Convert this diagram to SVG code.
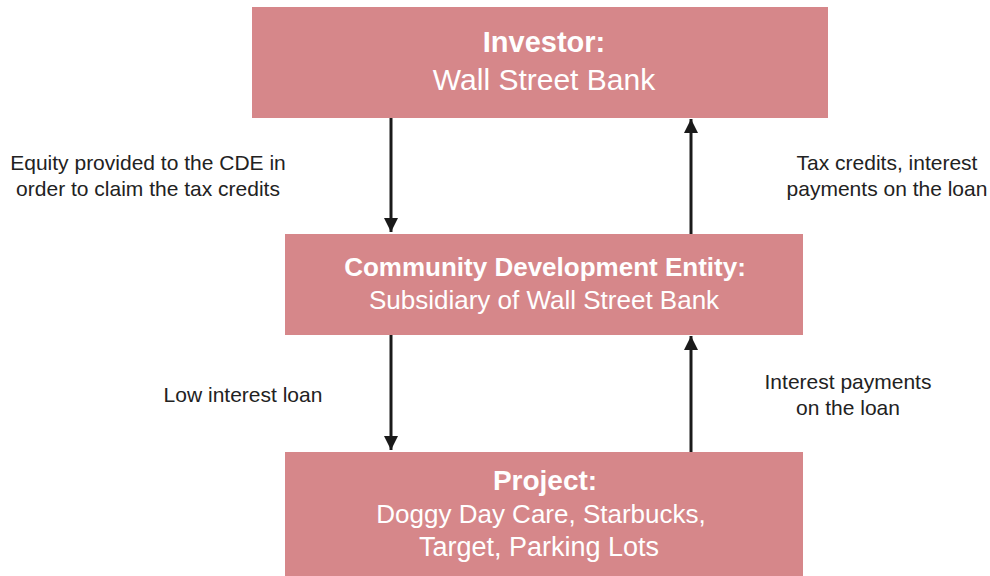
<svg xmlns="http://www.w3.org/2000/svg" width="990" height="576" viewBox="0 0 990 576">
<defs>
<style>
.box{fill:#D6878A}
.bt{font-family:"Liberation Sans",Arial,sans-serif;fill:#fff;text-anchor:middle}
.b{font-weight:bold}
.lbl{font-family:"Liberation Sans",Arial,sans-serif;fill:#222;font-size:21px;text-anchor:middle}
.ar{stroke:#1a1a1a;stroke-width:3;fill:none}
</style>
<marker id="ah" viewBox="0 0 10 10" refX="10" refY="5" markerWidth="14" markerHeight="14" markerUnits="userSpaceOnUse" orient="auto">
<path d="M0,0 L10,5 L0,10 Z" fill="#1a1a1a"/>
</marker>
</defs>
<rect width="990" height="576" fill="#fff"/>
<g id="investor">
<rect class="box" x="252" y="7" width="576" height="111"/>
<text class="bt b" x="544" y="52" font-size="29">Investor:</text>
<text class="bt" x="544" y="90" font-size="30">Wall Street Bank</text>
</g>
<g id="cde">
<rect class="box" x="285" y="234" width="518" height="101"/>
<text class="bt b" x="545" y="276" font-size="26">Community Development Entity:</text>
<text class="bt" x="544" y="309" font-size="26">Subsidiary of Wall Street Bank</text>
</g>
<g id="project">
<rect class="box" x="285" y="452" width="518" height="124"/>
<text class="bt b" x="545" y="490" font-size="28">Project:</text>
<text class="bt" x="541" y="523" font-size="26">Doggy Day Care, Starbucks,</text>
<text class="bt" x="539" y="556" font-size="27">Target, Parking Lots</text>
</g>
<g id="connectors">
<line class="ar" x1="391" y1="118" x2="391" y2="232" marker-end="url(#ah)"/>
<line class="ar" x1="691" y1="234" x2="691" y2="119" marker-end="url(#ah)"/>
<line class="ar" x1="391" y1="335" x2="391" y2="450" marker-end="url(#ah)"/>
<line class="ar" x1="691" y1="452" x2="691" y2="336" marker-end="url(#ah)"/>
</g>
<g id="labels">
<text class="lbl" x="148" y="170">Equity provided to the CDE in</text>
<text class="lbl" x="148" y="196">order to claim the tax credits</text>
<text class="lbl" x="887" y="170">Tax credits, interest</text>
<text class="lbl" x="887" y="196">payments on the loan</text>
<text class="lbl" x="243" y="402">Low interest loan</text>
<text class="lbl" x="848" y="389">Interest payments</text>
<text class="lbl" x="848" y="415">on the loan</text>
</g>
</svg>
